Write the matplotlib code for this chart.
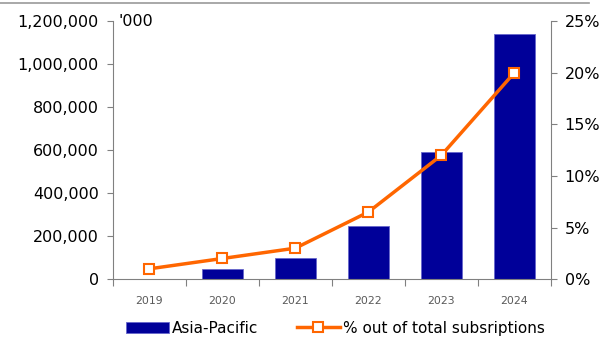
import matplotlib
matplotlib.use("Agg")
import matplotlib.pyplot as plt
from matplotlib.lines import Line2D
from matplotlib.ticker import FuncFormatter

# subscriptions in thousands and share of total subscriptions
years = ["2019", "2020", "2021", "2022", "2023", "2024"]
subscribers = [0, 45000, 100000, 247000, 592000, 1140000]
share_pct = [1.0, 2.0, 3.0, 6.5, 12.0, 20.0]

navy = "#000099"
orange = "#FF6600"
grey = "#808080"

fig = plt.figure(figsize=(6.1, 3.52), dpi=100)
ax = fig.add_axes([0.185, 0.207, 0.718, 0.733])
x = range(len(years))

ax.bar(x, subscribers, width=0.56, color=navy, edgecolor="#6666cc", linewidth=0.6, zorder=2,
       label="Asia-Pacific")
ax.set_xlim(-0.5, len(years) - 0.5)
ax.set_ylim(0, 1200000)
ax.set_yticks(range(0, 1200001, 200000))
ax.yaxis.set_major_formatter(FuncFormatter(lambda v, p: f"{int(v):,}"))
ax.tick_params(axis="y", labelsize=11.5, colors=grey, labelcolor="black", length=4, pad=6)

# year labels sit between the boundary ticks
ax.set_xticks([i + 0.5 for i in range(-1, len(years))])
ax.set_xticklabels([])
ax.set_xticks(list(x), minor=True)
ax.set_xticklabels(years, minor=True, fontsize=7.8, color="#595959")
ax.tick_params(axis="x", which="major", length=5, colors=grey)
ax.tick_params(axis="x", which="minor", length=0, pad=12)

for s in ["top", "right"]:
    ax.spines[s].set_visible(False)
for s in ["left", "bottom"]:
    ax.spines[s].set_color(grey)

ax2 = ax.twinx()
ax2.plot(x, share_pct, color=orange, linewidth=2.5, marker="s", markersize=7,
         markerfacecolor="white", markeredgecolor=orange, markeredgewidth=1.5,
         label="% out of total subsriptions", zorder=3)
ax2.set_ylim(0, 25)
ax2.set_yticks(range(0, 26, 5))
ax2.yaxis.set_major_formatter(FuncFormatter(lambda v, p: f"{int(v)}%"))
ax2.tick_params(axis="y", labelsize=11.5, colors=grey, labelcolor="black", length=4, pad=6)
for s in ["top", "left", "bottom"]:
    ax2.spines[s].set_visible(False)
ax2.spines["right"].set_color(grey)

ax.text(0.012, 1.0, "'000", transform=ax.transAxes, fontsize=11.5, va="center", ha="left")

h1, l1 = ax.get_legend_handles_labels()
h2, l2 = ax2.get_legend_handles_labels()
fig.legend(h1 + h2, l1 + l2, loc="center", bbox_to_anchor=(0.55, 0.068), ncol=2,
           frameon=False, fontsize=11, handlelength=2.8, columnspacing=2.5, handletextpad=0.2)

# thin rule across the top
fig.add_artist(Line2D([0, 0.965], [0.991, 0.991], color="#999999", linewidth=1.2))

fig.savefig("out.png", dpi=100)
